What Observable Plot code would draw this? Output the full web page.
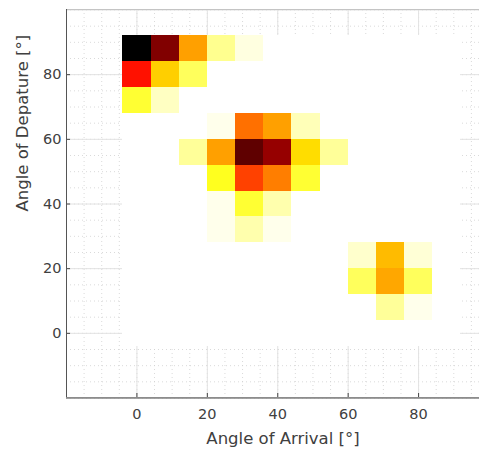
<!DOCTYPE html>
<html>
<head>
<meta charset="utf-8">
<script src="https://cdn.jsdelivr.net/npm/d3@7"></script>
<script src="https://cdn.jsdelivr.net/npm/@observablehq/plot@0.6"></script>
<style>
  html, body { margin: 0; padding: 0; background: white; overflow: hidden; }
  #chart svg { display: block; overflow: hidden; }
</style>
</head>
<body>
<div id="chart"></div>
<script>
// Grid of cell centres (degrees)
const aoaCenters = [0, 8, 16, 24, 32, 40, 48, 56, 64, 72, 80, 88];
const aodCenters = [0, 8, 16, 24, 32, 40, 48, 56, 64, 72, 80, 88];
// Non-zero cells (normalised power)
const peakAoA   = [0, 8, 16, 24, 32,  0, 8, 16,  0, 8,  24, 32, 40, 48,  16, 24, 32, 40, 48, 56,  24, 32, 40, 48,  24, 32, 40,  24, 32, 40,  64, 72, 80,  64, 72, 80,  72, 80];
const peakAoD   = [88, 88, 88, 88, 88, 80, 80, 80, 72, 72, 64, 64, 64, 64, 56, 56, 56, 56, 56, 56, 48, 48, 48, 48, 40, 40, 40, 32, 32, 32, 24, 24, 24, 16, 16, 16, 8, 8];
const peakPower = [1.0, 0.81, 0.39, 0.11, 0.03, 0.6, 0.32, 0.16, 0.2, 0.06, 0.02, 0.46, 0.39, 0.07, 0.1, 0.39, 0.86, 0.78, 0.3, 0.1, 0.22, 0.53, 0.44, 0.2, 0.02, 0.2, 0.08, 0.02, 0.08, 0.02, 0.05, 0.35, 0.04, 0.16, 0.38, 0.16, 0.1, 0.02];
const xTicks = [0, 20, 40, 60, 80];
const yTicks = [0, 20, 40, 60, 80];
const xLabel = "Angle of Arrival [°]";
const yLabel = "Angle of Depature [°]";

const halfCell = 4;
const lookup = new Map(peakAoA.map((a, i) => [a + "," + peakAoD[i], peakPower[i]]));
const cells = [];
for (const d of aodCenters) for (const a of aoaCenters) {
  cells.push({aoa: a, aod: d, power: lookup.get(a + "," + d) ?? 0});
}

// reversed MATLAB "hot"
function hotR(v) {
  const t = 1 - Math.max(0, Math.min(1, v));
  const c = x => Math.max(0, Math.min(1, x));
  const r = c(t / 0.375), g = c((t - 0.375) / 0.375), b = c((t - 0.75) / 0.25);
  return d3.rgb(r * 255, g * 255, b * 255).toString();
}

const minor = d3.range(-20, 101, 5);
const major = d3.range(-20, 101, 20);
const font = "'DejaVu Sans', sans-serif";

const chart = Plot.plot({
  width: 479,
  height: 449,
  marginLeft: 66, marginRight: 0, marginTop: 9, marginBottom: 52,
  style: {fontFamily: font, fontSize: "14.5px", color: "#404040", background: "white"},
  x: {domain: [-20, 100], range: [66, 488.5]},
  y: {domain: [-20, 100], range: [397.5, 9.5]},
  color: {type: "linear", domain: [0, 1], interpolate: hotR},
  marks: [
    Plot.gridX(minor, {stroke: "#d0d0d0", strokeOpacity: 1, strokeDasharray: "1,3", strokeWidth: 0.8}),
    Plot.gridY(minor, {stroke: "#d0d0d0", strokeOpacity: 1, strokeDasharray: "1,3", strokeWidth: 0.8}),
    Plot.gridX(major, {stroke: "#e2e2e2", strokeOpacity: 1}),
    Plot.gridY(major, {stroke: "#e2e2e2", strokeOpacity: 1}),
    Plot.rect(cells, {
      x1: d => d.aoa - halfCell, x2: d => d.aoa + halfCell,
      y1: d => d.aod - halfCell, y2: d => d.aod + halfCell,
      fill: "power", inset: 0, shapeRendering: "crispEdges"
    }),
    Plot.frame({stroke: "#c4c4c4", strokeOpacity: 1}),
    Plot.axisX(xTicks, {tickSize: 0, tickPadding: 11, label: null, fontSize: "14.5px", fill: "#404040"}),
    Plot.axisY(yTicks, {tickSize: 0, tickPadding: 5, label: null, fontSize: "14.5px", fill: "#404040"}),
    Plot.axisX(xTicks, {tickSize: -4, text: null, label: null, stroke: "#444"}),
    Plot.axisY(yTicks, {tickSize: -4, text: null, label: null, stroke: "#444"}),
    Plot.ruleX([-20], {stroke: "#555"}),
    Plot.ruleY([-20], {stroke: "#555"}),
    Plot.text([xLabel], {frameAnchor: "bottom", lineAnchor: "bottom", dx: 10, dy: 46, fontSize: "16.5px", fill: "#404040"}),
    Plot.text([yLabel], {frameAnchor: "left", rotate: -90, dx: -44, dy: 8, fontSize: "16.5px", fill: "#404040"})
  ]
});
document.getElementById("chart").appendChild(chart);
</script>
</body>
</html>
